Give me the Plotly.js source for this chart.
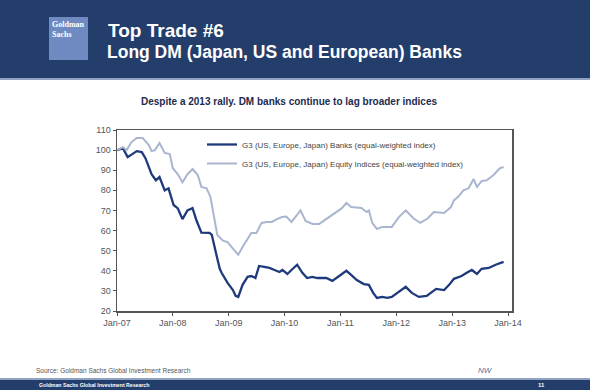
<!DOCTYPE html>
<html>
<head>
<meta charset="utf-8">
<script src="https://cdn.plot.ly/plotly-3.0.1.min.js"></script>
<style>
html,body{margin:0;padding:0;background:#fff;}
#chart{width:590px;height:390px;}
</style>
</head>
<body>
<div id="chart"></div>
<script>
// ---- Data ----
const banksDates = ["2007-01-01","2007-02-08","2007-03-12","2007-05-10","2007-06-12","2007-07-06","2007-08-15","2007-09-12","2007-10-06","2007-11-09","2007-12-04",
"2008-01-06","2008-02-03","2008-03-04","2008-04-06","2008-05-09","2008-06-04","2008-07-06","2008-08-28","2008-09-12","2008-10-12","2008-11-03","2008-11-15","2008-12-24",
"2009-01-28","2009-02-15","2009-03-04","2009-04-01","2009-05-04","2009-05-28","2009-06-24","2009-07-18","2009-08-21","2009-09-24","2009-10-27","2009-11-28","2009-12-18",
"2010-01-19","2010-02-15","2010-03-24","2010-04-27","2010-05-28","2010-07-01","2010-08-03","2010-10-01","2010-11-09","2010-12-24",
"2011-02-09","2011-03-12","2011-04-18","2011-06-03","2011-07-06","2011-08-03","2011-08-28","2011-10-01","2011-11-03","2011-12-03",
"2012-01-18","2012-03-03","2012-04-12","2012-05-28","2012-07-18","2012-09-18","2012-11-09","2012-12-12",
"2013-01-12","2013-03-03","2013-04-06","2013-05-09","2013-06-12","2013-07-12","2013-08-28","2013-10-12","2013-12-03"];
const banksValues = [100,101,96.5,99.5,99,96,88,85,86.6,80,81,
72.7,71,65.7,70,71.2,65,59,58.8,57.8,48,41,39,34,
30.4,27.5,27,33,37,37.4,36.4,42.4,42,41.4,40.4,39.4,40.4,
38.4,40.4,43,39,36.4,37,36.4,36.4,35,37.4,
40,38,35.4,33.4,33,29,26.5,27,26.5,27,
29.4,32,29,27,27.5,31,30.4,33,
36,37.4,39,40.4,38.4,41,41.4,43,44.4];

const equityDates = ["2007-01-01","2007-02-08","2007-03-05","2007-04-06","2007-05-10","2007-06-18","2007-07-28","2007-08-15","2007-09-06","2007-10-06","2007-11-09","2007-12-12",
"2008-01-01","2008-02-03","2008-03-04","2008-04-06","2008-05-09","2008-06-12","2008-07-06","2008-08-09","2008-09-03","2008-09-28","2008-10-18","2008-11-24","2008-12-24",
"2009-01-28","2009-03-04","2009-04-01","2009-05-04","2009-05-28","2009-07-01","2009-08-03","2009-09-06","2009-10-09","2009-11-12","2009-12-15",
"2010-01-12","2010-02-15","2010-03-12","2010-04-15","2010-05-18","2010-07-03","2010-08-15","2010-09-18","2010-10-01","2010-11-24",
"2011-01-09","2011-02-09","2011-03-12","2011-05-18","2011-06-21","2011-07-06","2011-07-28","2011-08-28","2011-10-01","2011-12-03",
"2012-01-18","2012-03-03","2012-04-24","2012-06-06","2012-07-24","2012-09-03","2012-11-09","2012-12-24",
"2013-01-12","2013-02-12","2013-03-15","2013-04-18","2013-05-21","2013-06-12","2013-07-12","2013-08-15","2013-09-28","2013-11-09","2013-12-03"];
const equityValues = [100,101.5,100,104,106,106,102.5,99.5,100,103.5,98.6,98,
91,88,84,88,90.6,87.6,81.7,81,76.7,65,57.8,55,54.3,
51,48,51.8,56,58.8,58.8,63.8,64.3,64.3,65.7,66.7,
67,64.3,66.7,70,64.8,63.3,63.3,65,66,68.7,
71,73.7,71.7,71.2,69.2,70,63.8,60.8,61.8,61.8,
66.7,70,66,63.8,66,69.2,68.7,71.7,
75,77,80,81,85.6,81.7,84.6,85,87.6,91,91.6];

const seriesNames = ["G3 (US, Europe, Japan) Banks (equal-weighted index)",
                     "G3 (US, Europe, Japan) Equity Indices (equal-weighted index)"];
const tickDates = ["2007-01-01","2008-01-01","2009-01-01","2010-01-01","2011-01-01","2012-01-01","2013-01-01","2014-01-01"];
const tickLabels = ["Jan-07","Jan-08","Jan-09","Jan-10","Jan-11","Jan-12","Jan-13","Jan-14"];

const headerTitle1 = "Top Trade #6";
const headerTitle2 = "Long DM (Japan, US and European) Banks";
const chartTitle = "Despite a 2013 rally. DM banks continue to lag broader indices";
const sourceText = "Source: Goldman Sachs Global Investment Research";
const footerText = "Goldman Sachs Global Investment Research";
const pageNum = "11";

// ---- Layout helpers (pixel -> paper) ----
const W = 590, H = 390;
const M = {l:117, r:78, t:130, b:79};
const PW = W - M.l - M.r, PH = H - M.t - M.b;
const px = x => (x - M.l) / PW;
const py = y => (H - M.b - y) / PH;

const navy = "#243e6c";
const FONT = "Liberation Sans, Arial, sans-serif";

const traces = [
  {x: banksDates, y: banksValues, name: seriesNames[0], type: "scatter", mode: "lines",
   line: {color: "#1f3a7c", width: 2.3}},
  {x: equityDates, y: equityValues, name: seriesNames[1], type: "scatter", mode: "lines",
   line: {color: "#aab5cf", width: 2}}
];

const shapes = [
  {type:"rect", xref:"paper", yref:"paper", x0:px(0), x1:px(W), y0:py(78), y1:py(0), fillcolor:navy, line:{width:0}, layer:"below"},
  {type:"rect", xref:"paper", yref:"paper", x0:px(0), x1:px(W), y0:py(80), y1:py(78), fillcolor:"#8fa2c2", line:{width:0}, layer:"below"},
  {type:"rect", xref:"paper", yref:"paper", x0:px(49), x1:px(88), y0:py(60), y1:py(17), fillcolor:"#6f8ac0", line:{width:0}, layer:"below"},
  {type:"rect", xref:"paper", yref:"paper", x0:px(0), x1:px(W), y0:py(380), y1:py(378), fillcolor:"#8fa2c2", line:{width:0}, layer:"below"},
  {type:"rect", xref:"paper", yref:"paper", x0:px(0), x1:px(W), y0:py(H), y1:py(380), fillcolor:navy, line:{width:0}, layer:"below"}
];

const ann = (x, y, text, size, color, opts) => Object.assign({
  xref:"paper", yref:"paper", x:px(x), y:py(y), text:text, showarrow:false,
  xanchor:"left", yanchor:"middle", font:{family:FONT, size:size, color:color}
}, opts || {});

const annotations = [
  ann(50, 24, "<b>Goldman<br>Sachs</b>", 8, "#ffffff", {yanchor:"top", y:py(18), align:"left",
      font:{family:"Liberation Serif, DejaVu Serif, serif", size:8, color:"#ffffff"}}),
  ann(106, 31, "<b>"+headerTitle1+"</b>", 19, "#ffffff"),
  ann(105, 52, "<b>"+headerTitle2+"</b>", 17.5, "#ffffff"),
  ann(289, 101, "<b>"+chartTitle+"</b>", 10, "#1d2b4f", {xanchor:"center"}),
  ann(34, 370, sourceText, 6.5, "#555555"),
  ann(476, 370, "<i>NW</i>", 8, "#5a6e9a"),
  ann(37, 385, "<b>"+footerText+"</b>", 5.2, "#ffffff"),
  ann(536, 385, "<b>"+pageNum+"</b>", 6, "#ffffff")
];

const layout = {
  width: W, height: H,
  margin: M,
  paper_bgcolor: "#ffffff", plot_bgcolor: "#ffffff",
  showlegend: true,
  legend: {x: px(202), y: py(130), xanchor:"left", yanchor:"top",
    bgcolor:"rgba(255,255,255,0)", borderwidth:0,
    font:{family:FONT, size:8, color:"#444444"},
    tracegroupgap:0, itemwidth:30},
  xaxis: {type:"date", range:["2007-01-01","2014-01-27"], tickvals:tickDates, ticktext:tickLabels,
    showgrid:false, zeroline:false, showline:true, linecolor:"#555555", linewidth:1.5, mirror:true,
    ticks:"outside", ticklen:3, tickcolor:"#555555",
    tickfont:{family:FONT, size:9, color:"#555555"}},
  yaxis: {range:[20,110], dtick:10, tick0:20, showgrid:false, zeroline:false,
    showline:true, linecolor:"#555555", linewidth:1.5, mirror:true,
    ticks:"outside", ticklen:3, tickcolor:"#555555",
    tickfont:{family:FONT, size:9, color:"#555555"}},
  shapes: shapes,
  annotations: annotations
};

Plotly.newPlot("chart", traces, layout, {displayModeBar:false, staticPlot:true});
</script>
</body>
</html>
